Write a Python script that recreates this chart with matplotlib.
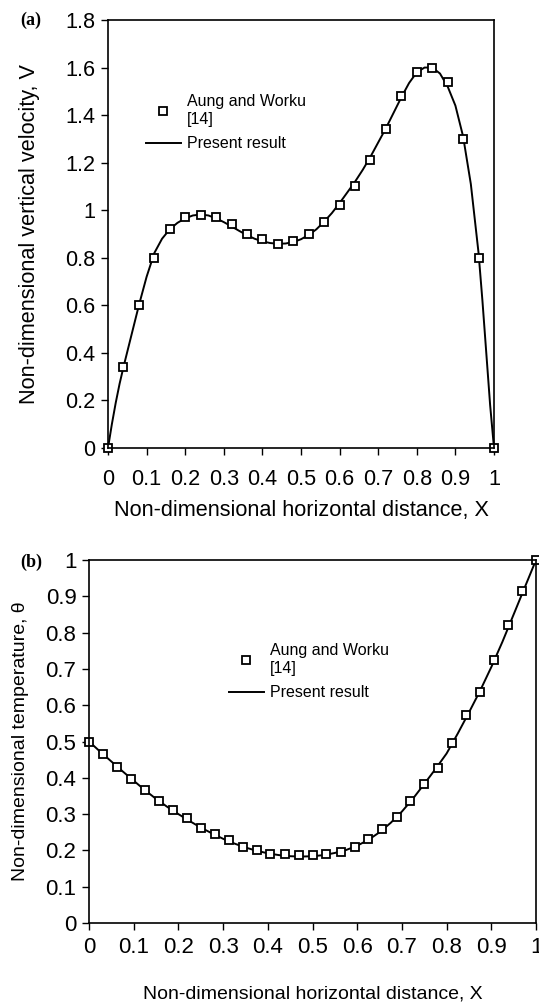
import matplotlib.pyplot as plt
from matplotlib.ticker import FuncFormatter

plt.rcParams['font.family'] = ['Liberation Sans', 'DejaVu Sans']

# (a) vertical velocity - Aung and Worku [14]
xa_ref = [0, 0.04, 0.08, 0.12, 0.16, 0.20, 0.24, 0.28, 0.32, 0.36, 0.40, 0.44, 0.48,
          0.52, 0.56, 0.60, 0.64, 0.68, 0.72, 0.76, 0.80, 0.84, 0.88, 0.92, 0.96, 1.0]
va_ref = [0, 0.34, 0.60, 0.80, 0.92, 0.97, 0.98, 0.97, 0.94, 0.90, 0.88, 0.86, 0.87,
          0.90, 0.95, 1.02, 1.10, 1.21, 1.34, 1.48, 1.58, 1.60, 1.54, 1.30, 0.80, 0]

# (a) present result
xa_cur = [0, 0.01, 0.02, 0.03, 0.04, 0.06, 0.08, 0.10, 0.12, 0.14, 0.16, 0.18, 0.20,
          0.22, 0.24, 0.26, 0.28, 0.30, 0.32, 0.34, 0.36, 0.38, 0.40, 0.42, 0.44, 0.46,
          0.48, 0.50, 0.52, 0.54, 0.56, 0.58, 0.60, 0.62, 0.64, 0.66, 0.68, 0.70, 0.72,
          0.74, 0.76, 0.78, 0.80, 0.82, 0.84, 0.86, 0.88, 0.90, 0.92, 0.94, 0.96, 0.97,
          0.98, 0.99, 1.0]
va_cur = [0, 0.10, 0.19, 0.27, 0.34, 0.47, 0.60, 0.72, 0.82, 0.88, 0.92, 0.947, 0.966,
          0.978, 0.982, 0.978, 0.966, 0.950, 0.932, 0.913, 0.895, 0.880, 0.869, 0.862,
          0.859, 0.860, 0.866, 0.878, 0.896, 0.920, 0.952, 0.988, 1.03, 1.075, 1.12,
          1.17, 1.225, 1.285, 1.345, 1.41, 1.475, 1.535, 1.58, 1.60, 1.60, 1.575, 1.52,
          1.44, 1.31, 1.11, 0.82, 0.62, 0.40, 0.18, 0]

# (b) temperature - Aung and Worku [14]
xb_ref = [0, 0.031, 0.063, 0.094, 0.125, 0.156, 0.188, 0.219, 0.25, 0.281, 0.313,
          0.344, 0.375, 0.406, 0.438, 0.469, 0.5, 0.531, 0.563, 0.594, 0.625, 0.656,
          0.688, 0.719, 0.75, 0.781, 0.813, 0.844, 0.875, 0.906, 0.938, 0.969, 1.0]
tb_ref = [0.5, 0.465, 0.429, 0.397, 0.366, 0.335, 0.312, 0.29, 0.262, 0.245, 0.228,
          0.21, 0.2, 0.191, 0.191, 0.187, 0.187, 0.191, 0.196, 0.21, 0.231, 0.258,
          0.293, 0.335, 0.383, 0.428, 0.496, 0.573, 0.636, 0.725, 0.82, 0.914, 1.0]

# (b) present result
xb_cur = [0, 0.025, 0.05, 0.075, 0.1, 0.125, 0.15, 0.175, 0.2, 0.225, 0.25, 0.275,
          0.3, 0.325, 0.35, 0.375, 0.4, 0.425, 0.45, 0.475, 0.5, 0.525, 0.55, 0.575,
          0.6, 0.625, 0.65, 0.675, 0.7, 0.725, 0.75, 0.775, 0.8, 0.825, 0.85, 0.875,
          0.9, 0.925, 0.95, 0.975, 1.0]
tb_cur = [0.500, 0.472, 0.445, 0.418, 0.392, 0.366, 0.342, 0.320, 0.300, 0.281,
          0.263, 0.247, 0.232, 0.219, 0.208, 0.199, 0.192, 0.187, 0.184, 0.183,
          0.184, 0.187, 0.193, 0.201, 0.213, 0.229, 0.250, 0.276, 0.307, 0.343,
          0.383, 0.424, 0.467, 0.522, 0.580, 0.640, 0.705, 0.775, 0.850, 0.925, 1.0]

xticks = [0, 0.1, 0.2, 0.3, 0.4, 0.5, 0.6, 0.7, 0.8, 0.9, 1.0]
yticks_a = [0, 0.2, 0.4, 0.6, 0.8, 1.0, 1.2, 1.4, 1.6, 1.8]
yticks_b = [0, 0.1, 0.2, 0.3, 0.4, 0.5, 0.6, 0.7, 0.8, 0.9, 1.0]

fig = plt.figure(figsize=(5.39, 10.08), dpi=100)
W, H = 539, 1008


def make_axes(x0, x1, y0, y1):
    return fig.add_axes([x0 / W, 1 - y1 / H, (x1 - x0) / W, (y1 - y0) / H])


fmt = FuncFormatter(lambda v, p: '%g' % round(v, 2))


def style(ax, yticks, ylabel, fs, lfs, xpad, xlpad, ylpad):
    ax.set_xlim(0, 1)
    ax.set_ylim(yticks[0], yticks[-1])
    ax.set_xticks(xticks)
    ax.set_yticks(yticks)
    ax.xaxis.set_major_formatter(fmt)
    ax.yaxis.set_major_formatter(fmt)
    ax.tick_params(direction='out', length=5, width=1, labelsize=fs, pad=4)
    ax.tick_params(axis='x', pad=xpad)
    for s in ax.spines.values():
        s.set_linewidth(1.2)
    ax.set_xlabel('Non-dimensional horizontal distance, X', fontsize=lfs, labelpad=xlpad)
    ax.set_ylabel(ylabel, fontsize=lfs, labelpad=ylpad)


mk = dict(marker='s', ms=5.5, mfc='white', mec='black', mew=1.3, ls='none', clip_on=False)

# panel (a)
ax1 = make_axes(108, 494, 20, 448)
ax1.plot(xa_cur, va_cur, color='black', lw=1.4, label='Present result', clip_on=False)
ax1.plot(xa_ref, va_ref, label='Aung and Worku\n[14]', **mk)
style(ax1, yticks_a, 'Non-dimensional vertical velocity, V', 15.6, 15.6, 10, 7, 18)
h, l = ax1.get_legend_handles_labels()
ax1.legend(h[::-1], l[::-1], loc='upper left', bbox_to_anchor=(0.06, 0.86), frameon=False,
           fontsize=11.5, handlelength=2.2, labelspacing=0.6, handletextpad=0.4)
fig.text(20 / W, 1 - 20 / H, '(a)', family='Liberation Serif', weight='bold',
         fontsize=13, va='center', ha='left')

# panel (b)
ax2 = make_axes(89, 536, 560, 923)
ax2.plot(xb_cur, tb_cur, color='black', lw=1.4, label='Present result', clip_on=False)
ax2.plot(xb_ref, tb_ref, label='Aung and Worku\n[14]', **mk)
style(ax2, yticks_b, 'Non-dimensional temperature, θ', 16, 14, 5, 20, 12)
h, l = ax2.get_legend_handles_labels()
ax2.legend(h[::-1], l[::-1], loc='upper left', bbox_to_anchor=(0.28, 0.81), frameon=False,
           fontsize=11.5, handlelength=2.2, labelspacing=0.6, handletextpad=0.4)
fig.text(20 / W, 1 - 562 / H, '(b)', family='Liberation Serif', weight='bold',
         fontsize=13, va='center', ha='left')

fig.savefig('out.png', dpi=100)
